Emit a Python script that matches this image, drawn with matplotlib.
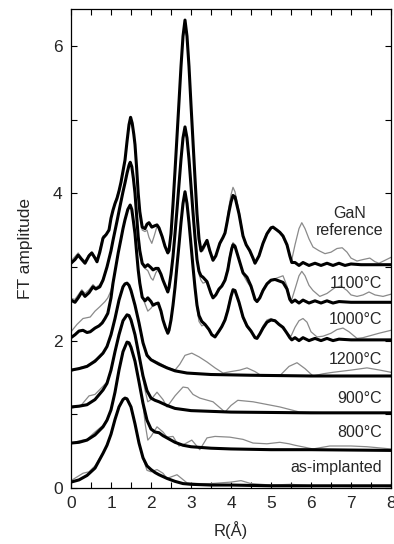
#!/usr/bin/env python3
"""FT amplitude vs R for Ga K-edge EXAFS, offset stack: data (grey) + fit (black)."""
import matplotlib
matplotlib.use("Agg")
import matplotlib.pyplot as plt
from matplotlib.ticker import MultipleLocator

plt.rcParams["font.family"] = ["Liberation Sans", "DejaVu Sans"]

# --- values: (R in Angstrom, FT amplitude incl. offset) ---
GAN_FIT = [(0.00, 3.05), (0.10, 3.10), (0.18, 3.16), (0.27, 3.10), (0.35, 3.05), (0.45, 3.15),
           (0.52, 3.19), (0.60, 3.12), (0.65, 3.07), (0.72, 3.20), (0.80, 3.39), (0.88, 3.44),
           (0.95, 3.50), (1.00, 3.66), (1.05, 3.77), (1.10, 3.86), (1.15, 3.93), (1.20, 4.03),
           (1.25, 4.15), (1.30, 4.30), (1.35, 4.45), (1.40, 4.70), (1.45, 4.93), (1.49, 5.03),
           (1.53, 4.95), (1.57, 4.80), (1.60, 4.66), (1.64, 4.35), (1.68, 4.00), (1.72, 3.75),
           (1.78, 3.54), (1.85, 3.52), (1.90, 3.58), (1.95, 3.60), (2.02, 3.54), (2.10, 3.56),
           (2.15, 3.57), (2.20, 3.53), (2.28, 3.41), (2.35, 3.28), (2.42, 3.19), (2.45, 3.22),
           (2.50, 3.45), (2.55, 3.85), (2.60, 4.30), (2.65, 4.77), (2.70, 5.24), (2.75, 5.72),
           (2.80, 6.13), (2.85, 6.35), (2.90, 6.13), (2.95, 5.72), (3.00, 5.20), (3.05, 4.70),
           (3.10, 4.20), (3.15, 3.72), (3.20, 3.38), (3.25, 3.22), (3.30, 3.26), (3.40, 3.36),
           (3.47, 3.22), (3.55, 3.09), (3.62, 3.15), (3.72, 3.32), (3.80, 3.40), (3.85, 3.46),
           (3.90, 3.60), (3.95, 3.75), (4.00, 3.88), (4.05, 3.97), (4.10, 3.95), (4.20, 3.72),
           (4.30, 3.42), (4.38, 3.30), (4.47, 3.22), (4.55, 3.12), (4.60, 3.05), (4.70, 3.15),
           (4.80, 3.32), (4.90, 3.45), (5.00, 3.53), (5.05, 3.54), (5.15, 3.50), (5.22, 3.47),
           (5.30, 3.42), (5.40, 3.30), (5.47, 3.15), (5.52, 3.06), (5.60, 3.06), (5.70, 3.02),
           (5.80, 3.06), (5.95, 3.02), (6.10, 3.05), (6.25, 3.02), (6.40, 3.05), (6.55, 3.02),
           (6.70, 3.05), (6.85, 3.02), (7.00, 3.04), (7.25, 3.03), (7.50, 3.03), (8.00, 3.03)]
GAN_EXP = [(0.00, 3.08), (0.10, 3.14), (0.18, 3.19), (0.27, 3.12), (0.35, 3.08), (0.45, 3.17),
           (0.52, 3.20), (0.60, 3.13), (0.65, 3.10), (0.72, 3.24), (0.80, 3.42), (0.88, 3.44),
           (0.95, 3.52), (1.00, 3.66), (1.05, 3.77), (1.10, 3.88), (1.15, 3.96), (1.20, 4.05),
           (1.25, 4.14), (1.30, 4.30), (1.35, 4.45), (1.40, 4.70), (1.45, 4.93), (1.49, 5.00),
           (1.53, 4.95), (1.57, 4.80), (1.60, 4.66), (1.64, 4.35), (1.68, 4.00), (1.72, 3.75),
           (1.78, 3.50), (1.85, 3.48), (1.90, 3.50), (1.95, 3.40), (2.02, 3.32), (2.08, 3.42),
           (2.15, 3.55), (2.20, 3.52), (2.28, 3.40), (2.35, 3.27), (2.42, 3.20), (2.45, 3.24),
           (2.50, 3.45), (2.55, 3.85), (2.60, 4.30), (2.65, 4.77), (2.70, 5.24), (2.75, 5.72),
           (2.80, 6.10), (2.85, 6.30), (2.90, 6.10), (2.95, 5.72), (3.00, 5.20), (3.05, 4.70),
           (3.10, 4.20), (3.15, 3.72), (3.20, 3.38), (3.25, 3.20), (3.30, 3.22), (3.40, 3.33),
           (3.47, 3.20), (3.55, 3.10), (3.62, 3.15), (3.72, 3.30), (3.80, 3.40), (3.85, 3.48),
           (3.90, 3.64), (3.95, 3.82), (4.00, 3.98), (4.05, 4.08), (4.10, 4.02), (4.20, 3.76),
           (4.30, 3.44), (4.38, 3.30), (4.47, 3.20), (4.55, 3.10), (4.60, 3.05), (4.70, 3.16),
           (4.80, 3.34), (4.90, 3.47), (5.00, 3.54), (5.05, 3.54), (5.15, 3.50), (5.22, 3.46),
           (5.30, 3.40), (5.40, 3.28), (5.47, 3.15), (5.52, 3.10), (5.60, 3.30), (5.70, 3.52),
           (5.77, 3.60), (5.85, 3.52), (5.95, 3.38), (6.05, 3.27), (6.20, 3.22), (6.35, 3.18),
           (6.50, 3.20), (6.65, 3.25), (6.78, 3.26), (6.90, 3.20), (7.00, 3.12), (7.15, 3.08),
           (7.30, 3.10), (7.47, 3.12), (7.60, 3.07), (7.70, 3.05), (7.85, 3.09), (8.00, 3.13)]

T1100_FIT = [(0.00, 2.55), (0.10, 2.52), (0.18, 2.58), (0.27, 2.66), (0.35, 2.60), (0.45, 2.65),
             (0.55, 2.73), (0.62, 2.70), (0.72, 2.73), (0.80, 2.82), (0.90, 3.00), (1.00, 3.22),
             (1.05, 3.36), (1.15, 3.62), (1.22, 3.81), (1.30, 4.02), (1.35, 4.14), (1.40, 4.27),
             (1.45, 4.38), (1.48, 4.42), (1.52, 4.36), (1.56, 4.20), (1.60, 4.00), (1.64, 3.70),
             (1.68, 3.41), (1.72, 3.22), (1.78, 3.05), (1.85, 3.00), (1.92, 3.03), (2.00, 2.99),
             (2.05, 2.96), (2.12, 2.98), (2.18, 2.98), (2.25, 2.90), (2.30, 2.82), (2.36, 2.74),
             (2.42, 2.66), (2.45, 2.72), (2.50, 2.90), (2.55, 3.14), (2.60, 3.45), (2.65, 3.78),
             (2.70, 4.12), (2.75, 4.46), (2.80, 4.75), (2.85, 4.90), (2.90, 4.75), (2.95, 4.46),
             (3.00, 4.10), (3.05, 3.74), (3.10, 3.40), (3.15, 3.10), (3.20, 2.94), (3.25, 2.88),
             (3.30, 2.86), (3.40, 2.80), (3.50, 2.64), (3.55, 2.58), (3.62, 2.62), (3.70, 2.70),
             (3.77, 2.74), (3.85, 2.82), (3.92, 2.96), (3.97, 3.12), (4.02, 3.25), (4.05, 3.30),
             (4.10, 3.28), (4.20, 3.10), (4.30, 2.92), (4.40, 2.86), (4.50, 2.74), (4.60, 2.56),
             (4.65, 2.53), (4.72, 2.58), (4.80, 2.68), (4.90, 2.77), (5.00, 2.82), (5.10, 2.83),
             (5.20, 2.81), (5.30, 2.79), (5.40, 2.70), (5.47, 2.56), (5.52, 2.52), (5.60, 2.55),
             (5.70, 2.51), (5.80, 2.55), (5.95, 2.51), (6.10, 2.54), (6.25, 2.51), (6.40, 2.54),
             (6.55, 2.51), (6.70, 2.53), (7.00, 2.52), (7.50, 2.52), (8.00, 2.52)]
T1100_EXP = [(0.00, 2.57), (0.10, 2.56), (0.18, 2.62), (0.27, 2.69), (0.35, 2.64), (0.45, 2.69),
             (0.55, 2.76), (0.62, 2.72), (0.72, 2.76), (0.80, 2.84), (0.90, 3.00), (1.00, 3.22),
             (1.05, 3.36), (1.15, 3.62), (1.22, 3.81), (1.30, 4.02), (1.35, 4.14), (1.40, 4.27),
             (1.45, 4.36), (1.48, 4.40), (1.52, 4.36), (1.56, 4.20), (1.60, 4.00), (1.64, 3.70),
             (1.68, 3.41), (1.72, 3.22), (1.78, 3.03), (1.85, 2.98), (1.92, 2.95), (2.00, 2.85),
             (2.05, 2.82), (2.12, 2.92), (2.18, 2.97), (2.25, 2.90), (2.30, 2.82), (2.36, 2.74),
             (2.42, 2.67), (2.45, 2.72), (2.50, 2.90), (2.55, 3.14), (2.60, 3.45), (2.65, 3.78),
             (2.70, 4.12), (2.75, 4.46), (2.80, 4.75), (2.85, 4.88), (2.90, 4.75), (2.95, 4.46),
             (3.00, 4.10), (3.05, 3.74), (3.10, 3.40), (3.15, 3.10), (3.20, 2.90), (3.25, 2.82),
             (3.30, 2.78), (3.40, 2.80), (3.50, 2.66), (3.55, 2.60), (3.62, 2.62), (3.70, 2.68),
             (3.77, 2.74), (3.85, 2.84), (3.92, 3.00), (3.97, 3.16), (4.02, 3.28), (4.05, 3.33),
             (4.10, 3.30), (4.20, 3.10), (4.30, 2.90), (4.40, 2.80), (4.50, 2.72), (4.60, 2.57),
             (4.65, 2.54), (4.72, 2.60), (4.80, 2.70), (4.90, 2.78), (5.00, 2.82), (5.10, 2.84),
             (5.20, 2.86), (5.30, 2.88), (5.40, 2.74), (5.47, 2.58), (5.52, 2.56), (5.60, 2.70),
             (5.70, 2.88), (5.77, 2.94), (5.85, 2.88), (5.95, 2.75), (6.05, 2.68), (6.22, 2.60),
             (6.40, 2.64), (6.60, 2.72), (6.75, 2.74), (6.90, 2.68), (7.00, 2.62), (7.15, 2.60),
             (7.30, 2.62), (7.45, 2.66), (7.60, 2.62), (7.80, 2.60), (8.00, 2.63)]

T1000_FIT = [(0.00, 2.04), (0.10, 2.08), (0.20, 2.13), (0.30, 2.14), (0.40, 2.11), (0.48, 2.12),
             (0.60, 2.17), (0.70, 2.20), (0.78, 2.24), (0.85, 2.30), (0.92, 2.37), (1.00, 2.58),
             (1.05, 2.78), (1.12, 3.00), (1.18, 3.19), (1.25, 3.38), (1.30, 3.52), (1.35, 3.64),
             (1.42, 3.78), (1.48, 3.84), (1.52, 3.78), (1.56, 3.62), (1.60, 3.45), (1.64, 3.20),
             (1.68, 2.96), (1.72, 2.78), (1.78, 2.59), (1.85, 2.54), (1.92, 2.58), (2.00, 2.53),
             (2.05, 2.48), (2.12, 2.50), (2.18, 2.51), (2.25, 2.40), (2.30, 2.28), (2.36, 2.18),
             (2.42, 2.10), (2.45, 2.14), (2.50, 2.28), (2.55, 2.48), (2.60, 2.72), (2.65, 3.02),
             (2.70, 3.30), (2.75, 3.60), (2.80, 3.86), (2.85, 4.02), (2.90, 3.86), (2.95, 3.60),
             (3.00, 3.30), (3.05, 3.00), (3.10, 2.72), (3.15, 2.48), (3.20, 2.34), (3.27, 2.26),
             (3.35, 2.22), (3.45, 2.15), (3.52, 2.08), (3.60, 2.05), (3.70, 2.13), (3.77, 2.19),
             (3.85, 2.28), (3.92, 2.41), (4.00, 2.60), (4.05, 2.69), (4.10, 2.68), (4.20, 2.52),
             (4.30, 2.32), (4.40, 2.20), (4.50, 2.13), (4.60, 2.04), (4.65, 2.03), (4.72, 2.09),
             (4.80, 2.17), (4.90, 2.25), (5.00, 2.28), (5.10, 2.27), (5.20, 2.22), (5.30, 2.18),
             (5.40, 2.10), (5.47, 2.04), (5.52, 2.01), (5.60, 2.04), (5.70, 2.00), (5.80, 2.04),
             (5.95, 2.00), (6.10, 2.03), (6.25, 2.00), (6.40, 2.03), (6.55, 2.00), (6.70, 2.02),
             (7.00, 2.01), (7.50, 2.01), (8.00, 2.01)]
T1000_EXP = [(0.00, 2.12), (0.15, 2.22), (0.30, 2.30), (0.48, 2.32), (0.60, 2.40), (0.72, 2.46),
             (0.85, 2.53), (0.92, 2.58), (1.00, 2.68), (1.05, 2.80), (1.12, 3.00), (1.18, 3.19),
             (1.25, 3.38), (1.30, 3.52), (1.35, 3.64), (1.42, 3.78), (1.48, 3.82), (1.52, 3.78),
             (1.56, 3.62), (1.60, 3.45), (1.64, 3.20), (1.68, 2.96), (1.72, 2.78), (1.78, 2.60),
             (1.85, 2.50), (1.92, 2.40), (2.00, 2.44), (2.05, 2.48), (2.12, 2.50), (2.18, 2.50),
             (2.25, 2.40), (2.30, 2.28), (2.36, 2.18), (2.42, 2.11), (2.45, 2.14), (2.50, 2.28),
             (2.55, 2.48), (2.60, 2.72), (2.65, 3.02), (2.70, 3.30), (2.75, 3.60), (2.80, 3.86),
             (2.85, 4.00), (2.90, 3.86), (2.95, 3.60), (3.00, 3.30), (3.05, 3.00), (3.10, 2.70),
             (3.15, 2.44), (3.20, 2.26), (3.27, 2.20), (3.35, 2.22), (3.45, 2.15), (3.52, 2.08),
             (3.60, 2.06), (3.70, 2.12), (3.77, 2.18), (3.85, 2.30), (3.92, 2.44), (4.00, 2.62),
             (4.05, 2.70), (4.10, 2.68), (4.20, 2.50), (4.30, 2.30), (4.40, 2.18), (4.50, 2.12),
             (4.60, 2.05), (4.65, 2.04), (4.72, 2.10), (4.80, 2.20), (4.90, 2.28), (5.00, 2.30),
             (5.10, 2.27), (5.20, 2.22), (5.30, 2.16), (5.40, 2.10), (5.50, 2.06), (5.60, 2.18),
             (5.70, 2.27), (5.80, 2.30), (5.90, 2.25), (6.00, 2.12), (6.15, 2.05), (6.30, 2.06),
             (6.50, 2.10), (6.65, 2.15), (6.80, 2.17), (6.95, 2.12), (7.15, 2.03), (7.30, 2.04),
             (7.50, 2.07), (7.70, 2.10), (7.85, 2.12), (8.00, 2.14)]

T1200_FIT = [(0.00, 1.60), (0.20, 1.62), (0.40, 1.65), (0.60, 1.72), (0.80, 1.83), (0.90, 1.92),
             (1.00, 2.08), (1.10, 2.30), (1.20, 2.55), (1.30, 2.73), (1.35, 2.77), (1.40, 2.78),
             (1.45, 2.75), (1.50, 2.68), (1.60, 2.48), (1.70, 2.24), (1.80, 1.97), (1.90, 1.80),
             (2.00, 1.74), (2.10, 1.71), (2.20, 1.68), (2.40, 1.63), (2.60, 1.59), (2.90, 1.56),
             (3.50, 1.54), (4.50, 1.53), (6.00, 1.52), (8.00, 1.52)]
T1200_EXP = [(0.00, 1.58), (0.20, 1.63), (0.40, 1.66), (0.60, 1.74), (0.72, 1.77), (0.80, 1.82),
             (0.90, 1.92), (1.00, 2.08), (1.10, 2.30), (1.20, 2.55), (1.30, 2.73), (1.35, 2.77),
             (1.40, 2.77), (1.45, 2.75), (1.50, 2.68), (1.60, 2.48), (1.70, 2.24), (1.80, 1.95),
             (1.90, 1.82), (2.00, 1.75), (2.20, 1.70), (2.40, 1.64), (2.60, 1.60), (2.72, 1.68),
             (2.85, 1.80), (3.02, 1.83), (3.20, 1.78), (3.40, 1.71), (3.60, 1.63), (3.80, 1.56),
             (4.00, 1.58), (4.22, 1.60), (4.40, 1.63), (4.60, 1.58), (4.77, 1.52), (5.00, 1.52),
             (5.25, 1.54), (5.45, 1.65), (5.65, 1.70), (5.85, 1.62), (6.05, 1.52), (6.30, 1.55),
             (6.55, 1.57), (7.00, 1.60), (7.40, 1.63), (7.72, 1.60), (8.00, 1.57)]

T900_FIT = [(0.00, 1.10), (0.20, 1.11), (0.40, 1.13), (0.60, 1.20), (0.80, 1.33), (0.90, 1.42),
            (1.00, 1.60), (1.10, 1.85), (1.20, 2.08), (1.30, 2.27), (1.40, 2.35), (1.45, 2.34),
            (1.50, 2.28), (1.60, 2.08), (1.70, 1.80), (1.80, 1.52), (1.90, 1.32), (2.00, 1.22),
            (2.10, 1.19), (2.20, 1.17), (2.40, 1.12), (2.60, 1.08), (3.00, 1.05), (4.00, 1.03),
            (6.00, 1.02), (8.00, 1.02)]
T900_EXP = [(0.00, 1.08), (0.25, 1.12), (0.45, 1.25), (0.60, 1.27), (0.80, 1.38), (0.90, 1.44),
            (1.00, 1.60), (1.10, 1.85), (1.20, 2.08), (1.30, 2.27), (1.40, 2.34), (1.45, 2.33),
            (1.50, 2.28), (1.60, 2.08), (1.70, 1.80), (1.80, 1.48), (1.85, 1.33), (1.92, 1.17),
            (2.00, 1.20), (2.15, 1.30), (2.30, 1.20), (2.40, 1.10), (2.60, 1.25), (2.80, 1.37),
            (2.92, 1.36), (3.05, 1.27), (3.22, 1.22), (3.55, 1.17), (3.70, 1.10), (3.85, 1.03),
            (4.00, 1.12), (4.17, 1.19), (4.55, 1.17), (5.22, 1.10), (5.72, 1.03), (6.50, 1.02),
            (8.00, 1.02)]

T800_FIT = [(0.00, 0.61), (0.20, 0.62), (0.40, 0.65), (0.60, 0.72), (0.80, 0.83), (0.90, 0.92),
            (1.00, 1.06), (1.10, 1.30), (1.20, 1.60), (1.30, 1.85), (1.40, 1.98), (1.45, 1.97),
            (1.50, 1.91), (1.60, 1.72), (1.70, 1.44), (1.80, 1.15), (1.90, 0.92), (2.00, 0.80),
            (2.10, 0.76), (2.20, 0.75), (2.30, 0.71), (2.40, 0.68), (2.60, 0.62), (2.80, 0.58),
            (3.00, 0.56), (3.50, 0.54), (4.00, 0.53), (5.00, 0.52), (6.00, 0.52), (8.00, 0.51)]
T800_EXP = [(0.00, 0.60), (0.20, 0.64), (0.40, 0.66), (0.60, 0.76), (0.80, 0.85), (0.90, 0.93),
            (1.00, 1.06), (1.10, 1.30), (1.20, 1.60), (1.30, 1.85), (1.40, 1.97), (1.45, 1.96),
            (1.50, 1.91), (1.60, 1.72), (1.70, 1.44), (1.80, 1.12), (1.86, 0.85), (1.92, 0.65),
            (2.00, 0.70), (2.15, 0.83), (2.30, 0.76), (2.40, 0.69), (2.55, 0.70), (2.70, 0.57),
            (2.85, 0.60), (3.02, 0.65), (3.22, 0.52), (3.40, 0.68), (3.60, 0.70), (3.97, 0.69),
            (4.30, 0.66), (4.55, 0.61), (4.90, 0.60), (5.22, 0.62), (5.45, 0.60), (5.60, 0.58),
            (6.05, 0.53), (6.47, 0.57), (7.00, 0.57), (7.40, 0.56), (8.00, 0.53)]

ASIMP_FIT = [(0.00, 0.08), (0.20, 0.11), (0.40, 0.17), (0.60, 0.27), (0.80, 0.47), (0.90, 0.58),
             (1.00, 0.73), (1.10, 0.93), (1.20, 1.10), (1.30, 1.20), (1.35, 1.22), (1.40, 1.21),
             (1.50, 1.10), (1.60, 0.87), (1.70, 0.61), (1.80, 0.41), (1.90, 0.30), (2.00, 0.25),
             (2.10, 0.21), (2.20, 0.18), (2.40, 0.13), (2.60, 0.09), (2.80, 0.06), (3.00, 0.05),
             (3.50, 0.04), (4.00, 0.04), (5.00, 0.03), (6.00, 0.03), (8.00, 0.03)]
ASIMP_EXP = [(0.00, 0.10), (0.15, 0.15), (0.30, 0.20), (0.45, 0.22), (0.60, 0.30), (0.80, 0.48),
             (0.90, 0.58), (1.00, 0.73), (1.10, 0.93), (1.20, 1.10), (1.30, 1.20), (1.35, 1.21),
             (1.40, 1.20), (1.50, 1.10), (1.60, 0.87), (1.70, 0.61), (1.80, 0.40), (1.90, 0.24),
             (2.00, 0.22), (2.15, 0.25), (2.30, 0.20), (2.40, 0.13), (2.65, 0.18), (2.90, 0.07),
             (3.20, 0.06), (3.50, 0.06), (4.00, 0.08), (4.25, 0.10), (4.50, 0.06), (5.00, 0.04),
             (5.50, 0.05), (6.00, 0.03), (7.00, 0.02), (8.00, 0.02)]

SERIES = [
    (ASIMP_EXP, ASIMP_FIT), (T800_EXP, T800_FIT), (T900_EXP, T900_FIT),
    (T1200_EXP, T1200_FIT), (T1000_EXP, T1000_FIT), (T1100_EXP, T1100_FIT),
    (GAN_EXP, GAN_FIT),
]
LABELS = ["as-implanted", "800°C", "900°C", "1200°C", "1000°C", "1100°C"]
LABEL_Y = [0.28, 0.75, 1.21, 1.75, 2.29, 2.78]
GAN_LABEL = "GaN\nreference"
GAN_LABEL_XY = (6.96, 3.61)

TEXT = "#262626"

fig = plt.figure(figsize=(3.94, 5.44), dpi=100)
ax = fig.add_axes([71 / 394, 1 - 488 / 544, 320 / 394, 479 / 544])

for exp, fit in SERIES:
    ax.plot([p[0] for p in exp], [p[1] for p in exp], color="#8a8a8a", lw=0.9, zorder=2)
    ax.plot([p[0] for p in fit], [p[1] for p in fit], color="black", lw=2.2,
            solid_joinstyle="round", zorder=3)

for lab, y in zip(LABELS, LABEL_Y):
    ax.text(7.78, y, lab, ha="right", va="center", fontsize=11.5, color=TEXT, zorder=4)
ax.text(*GAN_LABEL_XY, GAN_LABEL, ha="center", va="center", multialignment="center",
        fontsize=11.5, color=TEXT, linespacing=1.1, zorder=4)

ax.set_xlim(0, 8)
ax.set_ylim(0, 6.5)
ax.xaxis.set_major_locator(MultipleLocator(1))
ax.xaxis.set_minor_locator(MultipleLocator(0.5))
ax.yaxis.set_major_locator(MultipleLocator(2))
ax.yaxis.set_minor_locator(MultipleLocator(1))
ax.tick_params(which="both", direction="in", top=True, right=True, length=4,
               width=0.8, labelsize=12.5, labelcolor=TEXT, pad=6)
for s in ax.spines.values():
    s.set_linewidth(0.9)

ax.set_ylabel("FT amplitude", fontsize=12.5, color=TEXT)
ax.yaxis.set_label_coords(-0.12, 0.5)
ax.set_xlabel("R(Å)", fontsize=12, color=TEXT)
ax.xaxis.set_label_coords(0.5, -0.07)

fig.savefig("out.png", dpi=100)
